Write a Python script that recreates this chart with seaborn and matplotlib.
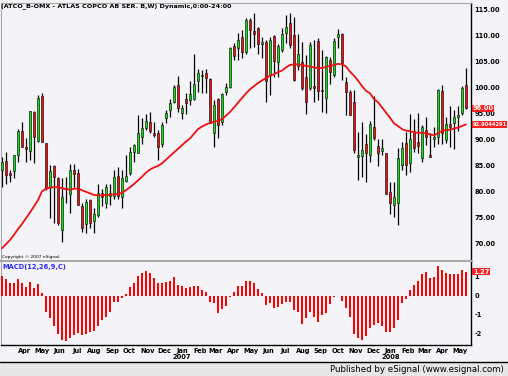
import numpy as np
import pandas as pd
import matplotlib
matplotlib.use("Agg")
import matplotlib.pyplot as plt
import matplotlib.dates as mdates
from matplotlib.patches import Rectangle
from matplotlib.lines import Line2D
import seaborn as sns

sns.set_theme(style="white")
plt.rcParams['font.family'] = ['DejaVu Sans']

# weekly bars, Feb 2006 - May 2008
weeks = pd.date_range("2006-02-20", periods=117, freq="W-MON")

opens = [84.1, 85.9, 83.6, 83.9, 87.0, 91.7, 88.6, 87.8, 95.3, 89.8,
         98.3, 89.3, 80.8, 84.9, 82.5, 72.5, 80.6, 79.5, 84.1, 83.5,
         77.2, 73.6, 78.3, 74.2, 75.4, 79.7, 77.7, 79.0, 79.0, 83.0,
         78.9, 82.0, 83.5, 87.6, 87.4, 90.4, 92.2, 93.4, 91.3, 91.3,
         89.1, 94.1, 95.6, 97.3, 100.5, 95.2, 97.9, 97.6, 97.9, 101.3,
         102.2, 102.9, 101.6, 91.2, 97.8, 93.4, 99.2, 100.1, 108.1, 107.6,
         109.7, 106.9, 113.1, 110.9, 111.5, 108.4, 108.9, 102.5, 110.0, 104.9,
         107.3, 110.5, 112.4, 110.2, 104.1, 104.9, 102.0, 99.9, 100.3, 109.0,
         99.6, 98.0, 105.3, 102.5, 109.8, 110.3, 101.1, 99.2, 97.3, 86.6,
         86.8, 89.1, 87.0, 92.5, 88.7, 87.8, 87.3, 79.9, 77.4, 77.8,
         85.1, 89.3, 85.5, 91.7, 89.6, 86.4, 91.8, 87.1, 90.0, 90.5,
         99.4, 89.9, 93.0, 93.1, 94.3, 95.2, 100.5]

highs = [86.7, 87.6, 84.1, 87.0, 92.0, 93.4, 90.2, 95.5, 95.5, 98.6,
         99.0, 89.3, 85.1, 85.1, 82.8, 82.6, 82.8, 85.2, 85.2, 84.3,
         77.7, 78.6, 78.6, 76.7, 81.4, 80.4, 81.5, 81.5, 84.1, 84.7,
         84.1, 87.0, 88.6, 89.2, 94.7, 94.1, 95.0, 95.3, 93.4, 91.8,
         93.4, 95.7, 97.8, 100.5, 102.3, 96.7, 98.9, 101.2, 106.6, 103.7,
         103.4, 103.7, 101.8, 97.6, 98.0, 98.9, 100.9, 107.9, 108.6, 110.5,
         111.1, 113.4, 113.4, 114.5, 111.8, 109.8, 109.2, 109.8, 110.2, 108.4,
         111.5, 114.0, 114.5, 113.7, 110.3, 108.8, 106.4, 108.9, 109.2, 109.6,
         107.3, 106.2, 105.9, 109.5, 111.3, 110.5, 102.0, 99.5, 99.5, 91.5,
         93.4, 91.0, 93.6, 98.3, 90.0, 90.0, 87.3, 81.8, 81.8, 88.3,
         89.6, 91.5, 95.0, 93.9, 95.2, 92.8, 94.3, 91.3, 92.5, 99.8,
         100.6, 94.4, 96.5, 95.7, 96.5, 100.3, 103.8]

lows = [80.8, 81.5, 81.7, 82.6, 85.7, 88.5, 85.7, 86.0, 85.5, 89.6,
        89.6, 80.3, 74.8, 73.8, 73.5, 70.3, 77.7, 75.9, 80.9, 77.4,
        72.2, 71.9, 72.9, 71.9, 75.1, 77.2, 76.7, 77.4, 78.6, 78.6,
        76.7, 81.8, 83.1, 85.7, 87.3, 89.2, 91.8, 91.3, 90.5, 86.0,
        88.5, 93.2, 94.3, 97.1, 95.3, 93.9, 94.9, 96.7, 97.6, 99.2,
        99.0, 98.9, 93.1, 88.6, 90.2, 92.8, 98.6, 99.9, 105.3, 105.3,
        105.7, 106.6, 107.6, 107.9, 106.6, 105.7, 97.3, 98.6, 102.1, 102.1,
        106.9, 108.6, 107.6, 101.2, 103.4, 99.5, 95.0, 99.5, 97.3, 97.6,
        95.3, 95.2, 100.8, 102.1, 107.6, 101.5, 94.7, 94.7, 87.3, 82.2,
        82.8, 81.7, 85.7, 89.9, 84.9, 87.0, 79.5, 75.7, 75.1, 73.5,
        84.1, 83.1, 83.8, 87.6, 87.3, 85.7, 89.0, 86.6, 88.6, 89.2,
        89.2, 89.3, 88.5, 88.2, 91.7, 94.7, 95.8]

closes = [85.6, 83.2, 83.1, 87.0, 91.7, 88.5, 88.2, 95.5, 90.5, 98.0,
          89.6, 80.6, 84.0, 82.8, 73.8, 78.8, 80.4, 84.1, 83.3, 77.4,
          72.9, 78.0, 73.8, 75.6, 79.7, 78.9, 80.9, 79.6, 82.8, 79.0,
          82.5, 83.0, 87.6, 89.0, 91.3, 92.2, 93.6, 91.7, 90.9, 88.5,
          92.7, 95.1, 97.0, 100.1, 96.0, 96.0, 97.0, 98.8, 100.8, 102.9,
          102.4, 101.8, 93.1, 96.7, 92.8, 98.8, 100.1, 107.6, 106.2, 109.3,
          106.9, 113.1, 111.1, 110.3, 108.4, 108.8, 101.2, 109.2, 105.2, 108.1,
          110.3, 111.7, 108.2, 101.5, 106.6, 99.9, 97.3, 108.2, 100.0, 99.4,
          99.4, 106.0, 103.0, 109.0, 110.3, 104.7, 99.2, 94.7, 88.0, 87.0,
          88.0, 87.4, 93.0, 90.2, 87.4, 88.3, 79.5, 77.8, 78.9, 86.4,
          88.3, 85.1, 90.0, 88.3, 88.7, 92.5, 90.5, 86.6, 90.5, 99.5,
          91.2, 93.0, 92.5, 94.4, 94.7, 100.0, 96.0]

# moving average line
ma = [69.0, 69.8, 70.6, 71.6, 72.7, 73.7, 74.8, 75.9, 77.1, 78.3,
      80.0, 80.5, 80.7, 80.8, 80.8, 80.6, 80.4, 80.3, 80.5, 80.5,
      80.2, 79.9, 79.6, 79.3, 79.2, 79.2, 79.3, 79.3, 79.4, 79.5,
      79.7, 80.2, 80.8, 81.4, 82.1, 82.8, 83.6, 84.2, 84.6, 84.9,
      85.4, 86.1, 86.8, 87.5, 88.2, 88.9, 89.6, 90.2, 91.1, 92.0,
      92.5, 92.9, 93.2, 93.4, 93.6, 93.9, 94.6, 95.3, 96.2, 97.1,
      98.0, 98.9, 99.7, 100.3, 100.9, 101.4, 101.9, 102.3, 102.6, 103.0,
      103.3, 103.9, 104.4, 104.5, 104.5, 104.4, 104.2, 104.1, 103.9, 103.8,
      103.8, 104.0, 104.2, 104.4, 104.6, 104.5, 104.1, 103.1, 102.3, 101.4,
      100.3, 99.4, 98.9, 97.8, 97.2, 96.2, 95.2, 94.2, 93.1, 92.6,
      92.0, 91.7, 91.6, 91.4, 91.3, 91.3, 91.2, 91.0, 90.8, 91.2,
      91.7, 91.8, 91.9, 92.1, 92.3, 92.6, 92.9]

macd = [1.05, 0.88, 0.67, 0.67, 0.88, 0.67, 0.46, 0.72, 0.40, 0.63,
        0.18, -0.82, -1.18, -1.6, -2.0, -2.3, -2.35, -2.2, -2.05, -1.95,
        -2.05, -2.0, -1.9, -1.85, -1.6, -1.26, -1.09, -0.82, -0.30, -0.30,
        -0.09, 0.08, 0.49, 0.70, 1.05, 1.23, 1.33, 1.19, 0.95, 0.67,
        0.67, 0.72, 0.81, 1.0, 0.60, 0.55, 0.40, 0.45, 0.55, 0.55,
        0.32, 0.23, -0.30, -0.39, -0.91, -0.70, -0.53, -0.04, 0.23, 0.53,
        0.53, 0.81, 0.81, 0.67, 0.35, 0.18, -0.47, -0.39, -0.65, -0.60,
        -0.42, -0.30, -0.30, -0.74, -0.82, -1.45, -1.18, -0.82, -1.09, -1.35,
        -1.0, -0.91, -0.42, -0.04, 0.02, -0.25, -0.65, -1.09, -2.0, -2.2,
        -2.3, -2.1, -1.7, -1.55, -1.4, -1.6, -1.9, -1.9, -1.7, -1.26,
        -0.39, -0.18, 0.32, 0.58, 0.81, 1.16, 1.28, 0.93, 1.02, 1.58,
        1.37, 1.23, 1.16, 1.16, 1.16, 1.37, 1.27]

price_ticks = [70, 75, 80, 85, 90, 95, 100, 105, 110, 115]
macd_ticks = [1, 0, -1, -2]
months = pd.date_range("2006-04-01", "2008-05-01", freq="MS")

BG = "#f4f3f7"
GREEN = "#11dd11"
RED = "#ee1111"
W, H = 508, 376

fig = plt.figure(figsize=(W / 100, H / 100), dpi=100, facecolor=BG)
axp = fig.add_axes([1 / W, 1 - 261 / H, 470 / W, 258 / H], facecolor=BG)
axm = fig.add_axes([1 / W, 1 - 345 / H, 470 / W, 84 / H], facecolor=BG, sharex=axp)

x = mdates.date2num(weeks)
o = np.array(opens); c = np.array(closes)
up = c >= o
body_h = np.maximum(np.abs(c - o), 0.15)
axp.vlines(x, lows, highs, color="black", lw=0.9, zorder=2)
axp.bar(x, body_h, bottom=np.minimum(o, c), width=4.0,
        color=np.where(up, GREEN, RED), edgecolor="black", linewidth=0.4, zorder=3)
sns.lineplot(x=weeks, y=ma, ax=axp, color="#ee1111", lw=1.3, zorder=4)

axm.bar(x, macd, width=3.3, color="#ff0000", linewidth=0, zorder=3)

# axes ranges (px calibrated)
axp.set_ylim(66.54, 116.35)
axm.set_ylim(-2.58, 1.84)
x0 = x[0] - 1.75
x1 = x[-1] + 8.75
axp.set_xlim(x0, x1)

for ax in (axp, axm):
    ax.yaxis.tick_right()
    ax.set_xlabel("")
    ax.set_ylabel("")
    ax.tick_params(axis="y", length=0, pad=2.5, labelsize=4.8, labelcolor="black")
    ax.grid(False)
    for s in ("left", "top", "bottom"):
        ax.spines[s].set_color("#a8a8a8")
        ax.spines[s].set_linewidth(0.8)
    ax.spines["right"].set_color("black")
    ax.spines["right"].set_linewidth(1.0)

axp.spines["bottom"].set_linewidth(1.4)
axm.spines["top"].set_linewidth(1.4)
axm.spines["bottom"].set_color("black")
axm.spines["bottom"].set_linewidth(1.0)

axp.set_yticks(price_ticks)
axp.set_yticklabels([f"{v:.2f}" for v in price_ticks], fontweight="bold")
axm.set_yticks(macd_ticks)
axm.set_yticklabels([str(v) for v in macd_ticks], fontweight="bold")

plt.setp(axp.get_xticklabels(), visible=False)
axp.tick_params(axis="x", length=0)
mlabels = []
for d in months:
    lab = d.strftime("%b")
    if d.month == 1:
        lab += "\n" + str(d.year)
    mlabels.append(lab)
axm.set_xticks(mdates.date2num(months))
axm.set_xticklabels(mlabels, fontweight="bold", linespacing=0.95)
axm.tick_params(axis="x", length=0, pad=2.5, labelsize=4.8, labelcolor="black")

# last value boxes on the scale
box = dict(facecolor="#ff2020", edgecolor="none", pad=0.4)
axp.text(1.004, closes[-1], f"{closes[-1]:.2f}", transform=axp.get_yaxis_transform(),
         ha="left", va="center", color="white", fontsize=4.8, fontweight="bold",
         zorder=10, clip_on=False, bbox=box)
axp.text(1.003, 92.9044291, "92.9044291", transform=axp.get_yaxis_transform(),
         ha="left", va="center", color="white", fontsize=3.7, fontweight="bold",
         zorder=10, clip_on=False, bbox=box)
axm.text(1.004, 1.27, "1.27", transform=axm.get_yaxis_transform(), ha="left", va="center",
         color="white", fontsize=4.8, fontweight="bold", zorder=10, clip_on=False, bbox=box)

# titles and footnotes
def fx(px):
    return px / W

def fy(py):
    return 1 - py / H

fig.text(fx(1), fy(6), "(ATCO_B-OMX - ATLAS COPCO AB SER. B,W) Dynamic,0:00-24:00",
         fontsize=4.6, fontweight="bold", va="center", ha="left", color="black")
fig.text(fx(2), fy(257), "Copyright \u00a9 2007 eSignal.", fontsize=3.2,
         va="center", ha="left", color="black")
fig.text(fx(2), fy(267), "MACD(12,26,9,C)", fontsize=4.8, fontweight="bold",
         va="center", ha="left", color="#2b2bff")

fig.patches.append(Rectangle((0, 0), 1, 14 / H, transform=fig.transFigure,
                             facecolor="#e6e6e6", edgecolor="none", zorder=0))
fig.lines.append(Line2D([0, 1], [fy(362), fy(362)], transform=fig.transFigure,
                        color="black", lw=1.0))
fig.text(fx(504), fy(369.5), "Published by eSignal (www.esignal.com)", fontsize=6.2,
         va="center", ha="right", color="black")

fig.savefig("out.png", dpi=100, facecolor=BG)
